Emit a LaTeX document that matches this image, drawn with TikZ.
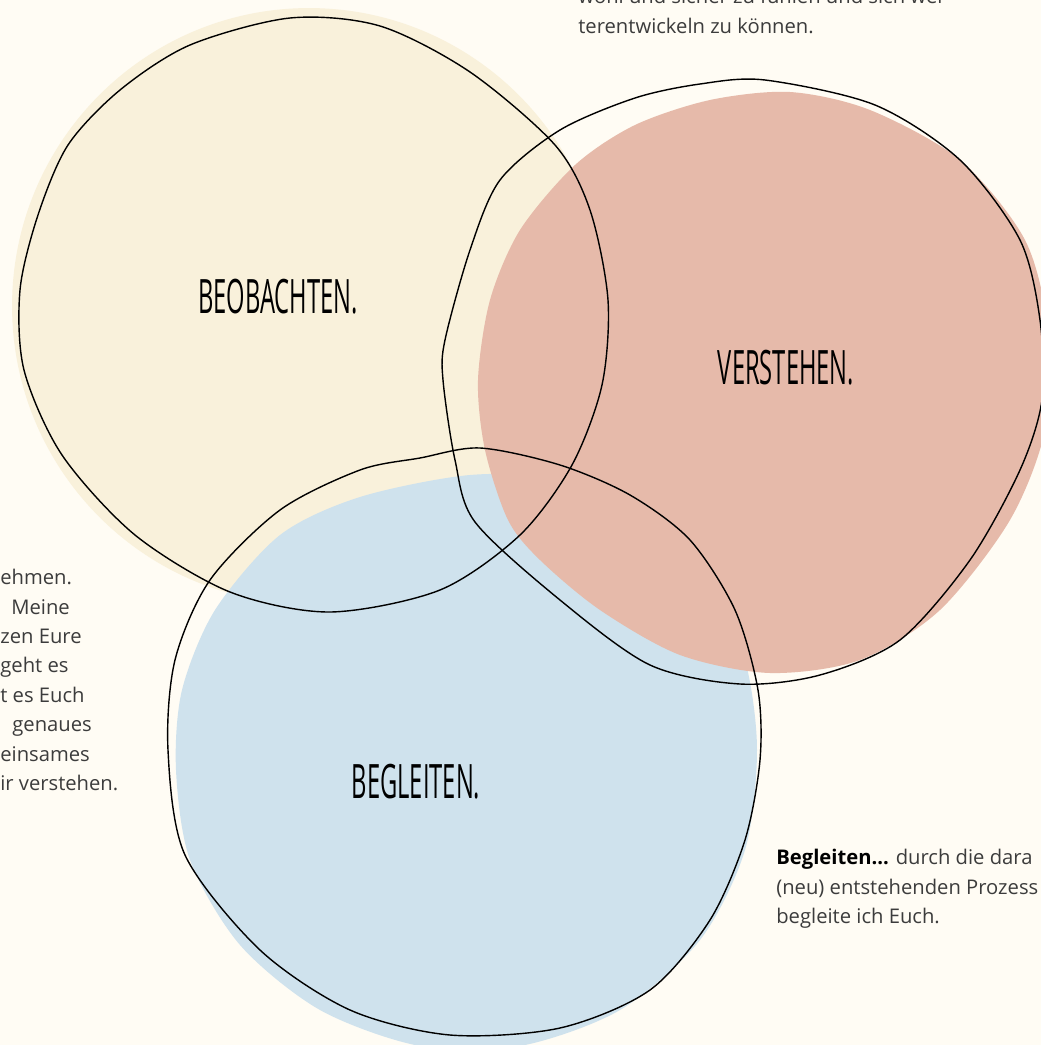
\documentclass[tikz,border=0pt]{standalone}
\usepackage{fontspec}
\usepackage{graphicx}
\setmainfont{Open Sans}

\definecolor{bgcream}{HTML}{FFFCF4}
\definecolor{beobfill}{HTML}{F9F1DB}
\definecolor{versfill}{HTML}{E6BAAA}
\definecolor{beglfill}{HTML}{CFE2ED}
\definecolor{bodygrey}{HTML}{3C3C3C}

\newcommand\ringlabel[1]{\scalebox{0.5}[1]{\fontsize{27}{27}\selectfont #1}}

\tikzset{
  ring/.style={draw=black, line width=0.8pt, line join=round},
  bodytext/.style={inner sep=0pt, align=left, text=bodygrey,
    font=\fontsize{11.5}{16.75}\selectfont},
}

\begin{document}
\begin{tikzpicture}[x=0.02cm,y=-0.02cm]
\useasboundingbox (0,0) rectangle (1041,1045);
\fill[bgcream] (0,0) rectangle (1041,1045);
\clip (0,0) rectangle (1041,1045);

% coloured blobs
\fill[beobfill] (309,306) circle [x radius=5.94cm, y radius=5.96cm];
\fill[beglfill] plot[smooth cycle] coordinates {
  (470,475) (560,480) (660,520) (710,580) (745,660) (757,750) (745,850)
  (700,940) (620,1010) (520,1046) (420,1046) (320,1010) (240,945)
  (190,860) (176,770) (182,690) (215,610) (280,535) (360,497)};
\fill[versfill] plot[smooth cycle] coordinates {
  (790,92) (870,110) (960,160) (1025,240) (1048,330) (1045,430) (1010,520)
  (940,610) (860,660) (770,673) (680,655) (600,610) (540,560) (508,520)
  (485,450) (478,380) (490,300) (520,230) (575,165) (635,125) (710,100)};

% hand drawn rings
\draw[ring] plot[smooth cycle] coordinates {
  (290,18) (380,26) (470,72) (555,145) (590,210) (608,300) (602,385)
  (572,465) (520,535) (440,590) (330,612) (230,592) (135,535) (62,455)
  (24,370) (20,290) (38,215) (68,145) (120,90) (190,45)};
\draw[ring] plot[smooth cycle] coordinates {
  (765,80) (875,105) (960,160) (1020,240) (1040,320) (1042,400) (1020,470)
  (970,560) (900,640) (820,675) (740,684) (650,665) (560,600) (475,522)
  (455,460) (443,380) (445,340) (470,250) (500,180) (560,130) (635,98)
  (700,84)};
\draw[ring] plot[smooth cycle] coordinates {
  (480,448) (560,465) (630,495) (690,540) (735,610) (758,690) (760,760)
  (745,840) (710,920) (650,990) (560,1028) (450,1035) (350,1010) (260,950)
  (185,855) (168,750) (175,660) (210,580) (280,510) (360,470) (420,458)};

% ring titles
\node (beob) at (278,297) {\ringlabel{BEOBACHTEN.}};
\node (vers) at (786,368) {\ringlabel{VERSTEHEN.}};
\node (begl) at (416,782) {\ringlabel{BEGLEITEN.}};

% side texts
\node[bodytext, anchor=north west] (verstxt) at (578,-12)
  {wohl und sicher zu fühlen und sich wei-\\terentwickeln zu können.};
\node[bodytext, anchor=north west] (beobtxt) at (0,569)
  {ehmen.\\\hspace{2.2mm}Meine\\zen Eure\\geht es\\t es Euch\\\hspace{2.4mm}genaues\\einsames\\ir verstehen.};
\node[bodytext, anchor=north west] (begltxt) at (776,849)
  {\textcolor{black}{\textbf{Begleiten...}} durch die dara\\(neu) entstehenden Prozess\\begleite ich Euch.};
\end{tikzpicture}
\end{document}
